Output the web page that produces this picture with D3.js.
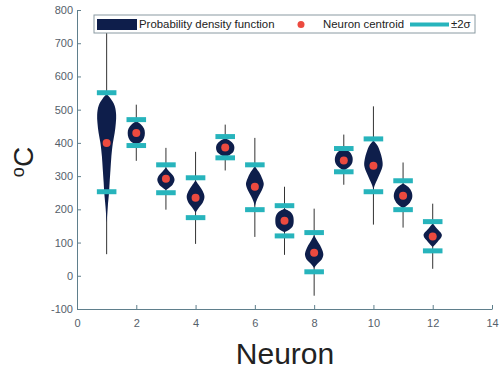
<!DOCTYPE html>
<html><head><meta charset="utf-8">
<script src="https://cdn.jsdelivr.net/npm/d3@7"></script>
<style>body{margin:0;background:#fff}svg{display:block;font-family:"Liberation Sans",Arial,sans-serif}</style>
</head><body><svg id="c" width="502" height="370"></svg>
<script>
const neurons = [1,2,3,4,5,6,7,8,9,10,11,12];
const centroid = [400,430,292,235,386,268,166,69,347,331,241,118];
const sigmaUpper = [551,470,334,295,419,334,211,130,383,412,286,163];
const sigmaLower = [253,392,250,175,355,199,120,12,313,253,199,75];
const whiskerMax = [750,515,385,373,455,415,268,202,425,510,341,217];
const whiskerMin = [65,346,199,96,317,117,63,-60,274,154,145,21];
// density profiles: [temperature, half-width in neuron units]
const density = [
  [[547,0],[535,0.12],[512,0.27],[485,0.32],[460,0.31],[430,0.27],[400,0.21],[360,0.16],[320,0.13],[280,0.1],[250,0.08],[210,0.04],[180,0.015],[160,0]],
  [[466,0],[456,0.15],[443,0.26],[430,0.29],[415,0.26],[403,0.16],[396,0]],
  [[326,0],[312,0.13],[300,0.25],[288,0.29],[275,0.23],[265,0.11],[258,0]],
  [[287,0],[272,0.12],[255,0.24],[238,0.3],[220,0.24],[205,0.11],[190,0]],
  [[414,0],[406,0.17],[396,0.28],[385,0.31],[374,0.28],[364,0.16],[356,0]],
  [[330,0],[312,0.14],[292,0.25],[276,0.3],[258,0.24],[240,0.13],[222,0.04],[208,0]],
  [[202,0],[194,0.17],[182,0.28],[166,0.31],[150,0.28],[140,0.18],[131,0]],
  [[122,0],[108,0.09],[92,0.2],[76,0.28],[63,0.31],[50,0.26],[38,0.13],[24,0]],
  [[383,0],[373,0.19],[358,0.29],[342,0.29],[328,0.19],[317,0]],
  [[407,0],[393,0.13],[372,0.23],[352,0.29],[332,0.31],[310,0.23],[290,0.13],[272,0.04],[260,0]],
  [[278,0],[267,0.18],[252,0.29],[236,0.31],[220,0.23],[210,0.11],[203,0]],
  [[158,0],[142,0.14],[122,0.31],[102,0.16],[87,0]]
];
const xTicks = [0,2,4,6,8,10,12,14];
const yTicks = [-100,0,100,200,300,400,500,600,700,800];
const legendLabels = ["Probability density function","Neuron centroid","\u00b12\u03c3"];

const svg = d3.select("#c");
const x = d3.scaleLinear().domain([0,14]).range([77,492]);
const y = d3.scaleLinear().domain([-100,800]).range([309,10]);
const axisColor = "#5f7f8c";
const navy = "#0e1e4b", red = "#ec4a3f", cyan = "#27b4bc";
const fmt = d => String(d);

// axes
const gx = svg.append("g").attr("transform","translate(0,309)")
  .call(d3.axisBottom(x).tickValues(xTicks).tickFormat(fmt).tickSizeInner(-4).tickSizeOuter(0).tickPadding(10));
const gy = svg.append("g").attr("transform","translate(77,0)")
  .call(d3.axisLeft(y).tickValues(yTicks).tickFormat(fmt).tickSizeInner(-4).tickSizeOuter(0).tickPadding(4));
[gx,gy].forEach(g=>{
  g.selectAll("path,line").attr("stroke",axisColor);
  g.selectAll("text").attr("fill","#55606a").style("font-size","11px");
});

// whiskers
svg.append("g").selectAll("line").data(neurons).join("line")
  .attr("x1",d=>x(d)).attr("x2",d=>x(d))
  .attr("y1",(d,i)=>y(whiskerMax[i])).attr("y2",(d,i)=>y(whiskerMin[i]))
  .attr("stroke","#333").attr("stroke-width",1);

// violins
svg.append("g").selectAll("path").data(neurons).join("path")
  .attr("d",(d,i)=>d3.area().curve(d3.curveCatmullRom)
     .y(p=>y(p[0])).x0(p=>x(d-p[1])).x1(p=>x(d+p[1]))(density[i]))
  .attr("fill",navy);

// sigma bars
const bw = 0.33;
const bars = svg.append("g");
neurons.forEach((d,i)=>{
  [sigmaUpper[i],sigmaLower[i]].forEach(v=>{
    bars.append("line").attr("x1",x(d-bw)).attr("x2",x(d+bw))
      .attr("y1",y(v)).attr("y2",y(v)).attr("stroke",cyan).attr("stroke-width",5);
  });
});

// centroids
svg.append("g").selectAll("circle").data(neurons).join("circle")
  .attr("cx",d=>x(d)).attr("cy",(d,i)=>y(centroid[i])).attr("r",4).attr("fill",red);

// legend
const lg = svg.append("g");
lg.append("rect").attr("x",94).attr("y",15).attr("width",381).attr("height",18)
  .attr("fill","#fff").attr("stroke","#8a9aa2").attr("stroke-width",1);
lg.append("rect").attr("x",97).attr("y",19).attr("width",40).attr("height",11).attr("fill",navy);
lg.append("text").attr("x",139).attr("y",28).text(legendLabels[0]);
lg.append("circle").attr("cx",301).attr("cy",24.5).attr("r",3.5).attr("fill",red);
lg.append("text").attr("x",323).attr("y",28).text(legendLabels[1]);
lg.append("line").attr("x1",410).attr("x2",449).attr("y1",24.5).attr("y2",24.5).attr("stroke",cyan).attr("stroke-width",4);
lg.append("text").attr("x",451).attr("y",28).text(legendLabels[2]);
lg.selectAll("text").attr("fill","#222").style("font-size","11.4px");

// axis titles
svg.append("text").attr("x",285).attr("y",364).attr("text-anchor","middle")
  .attr("fill","#222").style("font-size","30px").text("Neuron");
const yl = svg.append("text").attr("transform","translate(33,162) rotate(-90)")
  .attr("text-anchor","middle").attr("fill","#222").style("font-size","28px");
yl.append("tspan").style("font-size","18px").attr("dy","-9").text("o");
yl.append("tspan").attr("dy","9").text("C");
</script></body></html>
